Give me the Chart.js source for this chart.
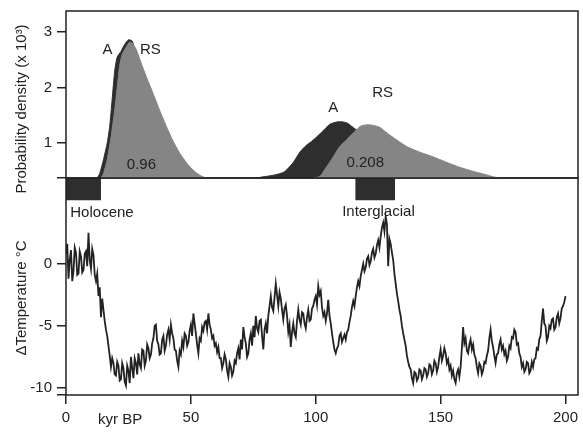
<!DOCTYPE html>
<html>
<head>
<meta charset="utf-8">
<script src="https://cdn.jsdelivr.net/npm/chart.js@4.4.1/dist/chart.umd.min.js"></script>
<style>
  body { margin: 0; background: #fff; }
  #wrap { position: relative; width: 583px; height: 438px; }
  canvas { position: absolute; left: 0; top: 0; }
</style>
</head>
<body>
<div id="wrap">
  <canvas id="bottom" width="583" height="438"></canvas>
  <canvas id="top" width="583" height="438"></canvas>
</div>
<script>
// Probability density (x 10^3) of the A and RS curves, per kyr BP
const aPeak1Age = [12.5, 13.5, 15, 16.5, 17.5, 18.5, 19.5, 20.5, 22, 23.5, 25, 26.5, 28, 30, 33, 36, 40, 44, 48, 52, 54];
const aPeak1Density = [0.37, 0.45, 0.7, 1.0, 1.3, 1.8, 2.3, 2.55, 2.65, 2.78, 2.86, 2.84, 2.6, 2.3, 1.9, 1.5, 1.1, 0.8, 0.55, 0.4, 0.37];
const rsPeak1Age = [14, 15, 16.5, 18, 19.5, 20.5, 21.5, 22.5, 24, 25.5, 26.5, 28.2, 30, 32.2, 35, 37.5, 40, 42.7, 45.5, 48.3, 50.5, 52.3, 54, 56];
const rsPeak1Density = [0.37, 0.45, 0.7, 1.1, 1.6, 2.0, 2.4, 2.6, 2.72, 2.82, 2.8, 2.68, 2.45, 2.19, 1.88, 1.59, 1.32, 1.05, 0.82, 0.64, 0.53, 0.46, 0.41, 0.37];
const aPeak2Age = [76, 80.4, 84, 87, 88.4, 91, 93.7, 96, 98.9, 102, 105.7, 108.5, 111, 112.6, 115, 118, 121, 125, 130, 135, 140];
const aPeak2Density = [0.37, 0.4, 0.43, 0.47, 0.52, 0.65, 0.84, 0.95, 1.05, 1.18, 1.34, 1.38, 1.38, 1.36, 1.28, 1.18, 1.05, 0.85, 0.6, 0.45, 0.37];
const rsPeak2Age = [99, 101.7, 104, 107, 109.5, 112.6, 115, 117.8, 120.6, 123, 125.8, 128, 131, 136.7, 142, 147.1, 152, 157.9, 163, 167.2, 171.2, 174];
const rsPeak2Density = [0.37, 0.4, 0.55, 0.75, 0.93, 1.07, 1.18, 1.3, 1.33, 1.32, 1.28, 1.2, 1.1, 0.93, 0.83, 0.75, 0.66, 0.56, 0.49, 0.44, 0.39, 0.37];
const densityTicks = [1, 2, 3];

// Temperature anomaly (°C) against age (kyr BP)
const ages = [
  0, 0.5, 1, 1.5, 2, 2.5, 3, 3.5, 4, 4.5, 5, 5.5, 6, 6.5, 7, 7.5, 8, 8.5, 9, 9.5,
  10, 10.5, 11, 11.5, 12, 12.5, 13, 13.5, 14, 14.5, 15, 15.5, 16, 16.5, 17, 17.5, 18, 18.5, 19, 19.5,
  20, 20.5, 21, 21.5, 22, 22.5, 23, 23.5, 24, 24.5, 25, 25.5, 26, 26.5, 27, 27.5, 28, 28.5, 29, 29.5,
  30, 30.5, 31, 31.5, 32, 32.5, 33, 33.5, 34, 34.5, 35, 35.5, 36, 36.5, 37, 37.5, 38, 38.5, 39, 39.5,
  40, 40.5, 41, 41.5, 42, 42.5, 43, 43.5, 44, 44.5, 45, 45.5, 46, 46.5, 47, 47.5, 48, 48.5, 49, 49.5,
  50, 50.5, 51, 51.5, 52, 52.5, 53, 53.5, 54, 54.5, 55, 55.5, 56, 56.5, 57, 57.5, 58, 58.5, 59, 59.5,
  60, 60.5, 61, 61.5, 62, 62.5, 63, 63.5, 64, 64.5, 65, 65.5, 66, 66.5, 67, 67.5, 68, 68.5, 69, 69.5,
  70, 70.5, 71, 71.5, 72, 72.5, 73, 73.5, 74, 74.5, 75, 75.5, 76, 76.5, 77, 77.5, 78, 78.5, 79, 79.5,
  80, 80.5, 81, 81.5, 82, 82.5, 83, 83.5, 84, 84.5, 85, 85.5, 86, 86.5, 87, 87.5, 88, 88.5, 89, 89.5,
  90, 90.5, 91, 91.5, 92, 92.5, 93, 93.5, 94, 94.5, 95, 95.5, 96, 96.5, 97, 97.5, 98, 98.5, 99, 99.5,
  100, 100.5, 101, 101.5, 102, 102.5, 103, 103.5, 104, 104.5, 105, 105.5, 106, 106.5, 107, 107.5, 108, 108.5, 109, 109.5,
  110, 110.5, 111, 111.5, 112, 112.5, 113, 113.5, 114, 114.5, 115, 115.5, 116, 116.5, 117, 117.5, 118, 118.5, 119, 119.5,
  120, 120.5, 121, 121.5, 122, 122.5, 123, 123.5, 124, 124.5, 125, 125.5, 126, 126.5, 127, 127.5, 128, 128.5, 129, 129.5,
  130, 130.5, 131, 131.5, 132, 132.5, 133, 133.5, 134, 134.5, 135, 135.5, 136, 136.5, 137, 137.5, 138, 138.5, 139, 139.5,
  140, 140.5, 141, 141.5, 142, 142.5, 143, 143.5, 144, 144.5, 145, 145.5, 146, 146.5, 147, 147.5, 148, 148.5, 149, 149.5,
  150, 150.5, 151, 151.5, 152, 152.5, 153, 153.5, 154, 154.5, 155, 155.5, 156, 156.5, 157, 157.5, 158, 158.5, 159, 159.5,
  160, 160.5, 161, 161.5, 162, 162.5, 163, 163.5, 164, 164.5, 165, 165.5, 166, 166.5, 167, 167.5, 168, 168.5, 169, 169.5,
  170, 170.5, 171, 171.5, 172, 172.5, 173, 173.5, 174, 174.5, 175, 175.5, 176, 176.5, 177, 177.5, 178, 178.5, 179, 179.5,
  180, 180.5, 181, 181.5, 182, 182.5, 183, 183.5, 184, 184.5, 185, 185.5, 186, 186.5, 187, 187.5, 188, 188.5, 189, 189.5,
  190, 190.5, 191, 191.5, 192, 192.5, 193, 193.5, 194, 194.5, 195, 195.5, 196, 196.5, 197, 197.5, 198, 198.5, 199, 199.5,
  200,
];
const temps = [
  0.8, 1.6, -1.2, 0.3, 1.1, -1.4, -0.6, 1.3, 0.9, -0.9, -0.8, 1.0, 0.6, -0.7, -0.5, 0.8, 1.0, -0.2, 2.5, 0.3,
  -0.4, 1.2, 0.7, -0.9, -1.4, -0.8, -2.6, -1.9, -4.3, -2.8, -3.7, -4.6, -5.3, -5.8, -6.6, -7.4, -8.3, -7.6, -8.0, -8.9,
  -9.0, -7.9, -8.2, -9.4, -9.3, -8.0, -8.4, -9.5, -9.8, -8.2, -8.6, -9.6, -7.5, -8.4, -9.2, -7.6, -8.0, -8.9, -7.2, -8.1,
  -8.4, -6.9, -7.0, -8.2, -7.8, -6.5, -6.8, -7.6, -7.3, -6.4, -6.0, -5.0, -4.9, -6.2, -6.5, -7.3, -7.2, -6.1, -5.8, -7.0,
  -6.6, -5.7, -5.3, -6.1, -4.9, -5.6, -6.0, -6.9, -7.0, -7.8, -8.3, -7.0, -7.3, -6.2, -6.7, -5.6, -5.8, -6.6, -6.3, -5.4,
  -4.9, -5.8, -4.0, -4.8, -5.6, -6.5, -7.2, -6.0, -6.2, -5.1, -5.4, -4.7, -4.6, -5.3, -4.0, -4.9, -5.3, -6.0, -5.8, -6.6,
  -6.4, -7.1, -6.7, -7.6, -7.6, -8.4, -8.0, -7.3, -7.7, -8.6, -9.1, -8.0, -8.3, -9.0, -8.7, -7.8, -8.0, -7.2, -6.8, -7.7,
  -6.1, -6.9, -5.1, -5.9, -6.4, -7.5, -7.2, -6.1, -5.6, -6.6, -5.0, -5.9, -4.2, -5.2, -5.5, -4.6, -4.5, -5.8, -6.9, -5.3,
  -4.8, -5.6, -4.2, -3.4, -2.6, -3.5, -3.8, -2.7, -1.6, -2.5, -3.4, -2.3, -2.8, -3.7, -4.5, -3.6, -3.3, -4.2, -5.5, -4.9,
  -6.7, -5.5, -4.8, -5.6, -5.9, -4.6, -3.7, -4.5, -4.9, -3.9, -4.0, -4.8, -5.2, -4.3, -3.7, -4.6, -4.5, -3.6, -3.4, -2.9,
  -2.6, -3.3, -1.8, -2.5, -2.2, -3.5, -4.2, -3.9, -4.6, -4.0, -2.9, -4.2, -4.8, -5.6, -6.3, -6.9, -7.2, -6.8, -6.6, -5.8,
  -5.6, -6.3, -6.0, -5.7, -6.1, -5.5, -5.3, -4.7, -4.2, -3.5, -3.0, -3.4, -2.6, -1.9, -1.4, -1.8, -1.0, -0.5, 0.0, -0.6,
  -0.3, 0.4, 0.6, -0.1, 0.2, 0.9, 1.2, 0.5, 0.8, 1.5, 1.9, 1.3, 2.2, 2.9, 3.3, 2.6, 3.8, 3.2, -0.2, 2.0,
  1.6, 0.9, 0.3, -0.8, -1.6, -2.4, -3.0, -3.7, -4.2, -5.0, -5.6, -6.1, -6.6, -7.4, -7.9, -8.3, -8.5, -9.2, -9.6, -8.7,
  -8.8, -9.4, -9.2, -8.5, -8.6, -9.3, -9.0, -8.4, -8.5, -9.1, -8.8, -8.1, -8.2, -8.9, -8.6, -7.8, -8.0, -8.7, -8.3, -7.5,
  -6.9, -7.8, -7.4, -6.8, -7.2, -8.0, -7.7, -8.5, -8.2, -9.0, -8.6, -9.3, -9.6, -8.8, -8.5, -9.1, -8.3, -6.8, -5.1, -6.4,
  -6.0, -7.0, -7.2, -6.5, -6.1, -6.9, -6.5, -7.3, -7.6, -8.3, -8.8, -8.0, -8.2, -8.9, -8.6, -7.9, -8.0, -7.4, -7.0, -6.0,
  -5.3, -6.2, -6.7, -7.4, -8.0, -7.3, -7.2, -6.5, -6.1, -6.9, -6.6, -7.3, -7.0, -7.8, -7.5, -6.6, -6.8, -5.9, -6.0, -5.3,
  -5.5, -6.5, -6.4, -7.2, -7.5, -8.3, -8.0, -8.7, -8.5, -7.9, -8.0, -8.8, -8.6, -7.9, -8.3, -7.7, -7.6, -6.8, -6.9, -6.1,
  -5.8, -4.6, -3.6, -4.8, -5.0, -6.2, -5.9, -5.0, -5.2, -4.5, -4.4, -5.3, -5.1, -4.3, -4.0, -4.8, -4.4, -3.6, -3.4, -3.1,
  -2.6,
];
const tempTicks = [-10, -5, 0];
const ageTicks = [0, 50, 100, 150, 200];

// Warm periods marked under the density panel (kyr BP)
const periodNames = ['Holocene', 'Interglacial'];
const periodStart = [0, 115.8];
const periodEnd = [14, 131.8];

const ink = '#222';
const darkFill = '#2e2e2e';
const greyFill = '#858585';
const family = 'Arial, "Liberation Sans", sans-serif';
const tickFont = { family, size: 15 };

const pts = (xs, ys) => xs.map((x, i) => ({ x, y: ys[i] }));

// cadre + textos
const framePlugin = {
  id: 'frame',
  afterDatasetsDraw(chart) {
    const { ctx, chartArea: a } = chart;
    ctx.save();
    ctx.strokeStyle = ink;
    ctx.lineWidth = 1.5;
    ctx.strokeRect(a.left, a.top, a.right - a.left, a.bottom - a.top);
    ctx.restore();
  },
};

const notesPlugin = {
  id: 'notes',
  afterDraw(chart, args, opts) {
    const { ctx, scales: { x, y } } = chart;
    ctx.save();
    ctx.fillStyle = ink;
    ctx.font = `15px ${family}`;
    ctx.textAlign = 'center';
    ctx.textBaseline = 'middle';
    (opts.items || []).forEach(([t, vx, vy]) => {
      ctx.fillText(t, x.getPixelForValue(vx), y.getPixelForValue(vy));
    });
    if (opts.title) {
      ctx.translate(opts.title.x, opts.title.y);
      ctx.rotate(-Math.PI / 2);
      ctx.fillText(opts.title.text, 0, 0);
    }
    ctx.restore();
  },
};

const yAxis = (min, max, values) => ({
  min,
  max,
  afterFit: (s) => { s.width = 66; s.paddingTop = 0; s.paddingBottom = 0; },
  afterBuildTicks: (s) => { s.ticks = [min, ...values].map((value) => ({ value })); },
  border: { display: false },
  grid: { drawOnChartArea: false, tickLength: 9, color: ink, lineWidth: 1.5 },
  ticks: { color: ink, font: tickFont, padding: 5, callback: (v) => (values.includes(v) ? v : '') },
});

const common = {
  responsive: false,
  animation: false,
  events: [],
  devicePixelRatio: 1,
};

// Painel de cima: densidades
new Chart(document.getElementById('top'), {
  type: 'line',
  data: {
    datasets: [
      { data: pts(rsPeak1Age, rsPeak1Density), backgroundColor: greyFill, borderColor: greyFill, borderWidth: 1, fill: 'start' },
      { data: pts(rsPeak2Age, rsPeak2Density), backgroundColor: greyFill, borderColor: greyFill, borderWidth: 1, fill: 'start' },
      { data: pts(aPeak1Age, aPeak1Density), backgroundColor: darkFill, borderColor: darkFill, borderWidth: 1, fill: 'start' },
      { data: pts(aPeak2Age, aPeak2Density), backgroundColor: darkFill, borderColor: darkFill, borderWidth: 1, fill: 'start' },
    ],
  },
  options: {
    ...common,
    layout: { padding: { top: 11, right: 5, bottom: 260, left: 0 } },
    elements: { point: { radius: 0 }, line: { tension: 0.2 } },
    scales: {
      x: { type: 'linear', min: 0, max: 205, display: false },
      y: yAxis(0.37, 3.38, densityTicks),
    },
    plugins: {
      legend: { display: false },
      tooltip: { enabled: false },
      notes: {
        items: [['A', 16.6, 2.68], ['RS', 33.8, 2.68], ['0.96', 30.2, 0.6], ['A', 107, 1.63], ['RS', 126.8, 1.9], ['0.208', 119.8, 0.64]],
        title: { text: 'Probability density (x 10³)', x: 22, y: 109 },
      },
    },
  },
  plugins: [framePlugin, notesPlugin],
});

// Painel de baixo: temperatura
const periodSets = periodNames.map((name, i) => ({
  label: name,
  data: [{ x: periodStart[i], y: 5.1 }, { x: periodEnd[i], y: 5.1 }],
  backgroundColor: darkFill,
  borderWidth: 0,
  fill: 'end',
}));

new Chart(document.getElementById('bottom'), {
  type: 'line',
  data: {
    datasets: [
      { label: 'ΔT', data: pts(ages, temps), borderColor: ink, borderWidth: 1.8, fill: false },
      ...periodSets,
    ],
  },
  options: {
    ...common,
    layout: { padding: { top: 178, right: 5, bottom: 0, left: 0 } },
    elements: { point: { radius: 0 }, line: { tension: 0 } },
    scales: {
      x: {
        type: 'linear',
        min: 0,
        max: 205,
        afterFit: (s) => { s.height = 43; s.paddingLeft = 0; s.paddingRight = 0; },
        afterBuildTicks: (s) => { s.ticks = ageTicks.map((value) => ({ value })); },
        border: { display: false },
        grid: { drawOnChartArea: false, tickLength: 9, color: ink, lineWidth: 1.5 },
        ticks: { color: ink, font: tickFont, padding: 5, maxRotation: 0 },
      },
      y: yAxis(-10.56, 6.9, tempTicks),
    },
    plugins: {
      legend: { display: false },
      tooltip: { enabled: false },
      notes: {
        items: [[periodNames[0], 14.4, 4.1], [periodNames[1], 125.1, 4.2], ['kyr BP', 21.7, -12.6]],
        title: { text: 'ΔTemperature °C', x: 22, y: 298 },
      },
    },
  },
  plugins: [framePlugin, notesPlugin],
});
</script>
</body>
</html>
